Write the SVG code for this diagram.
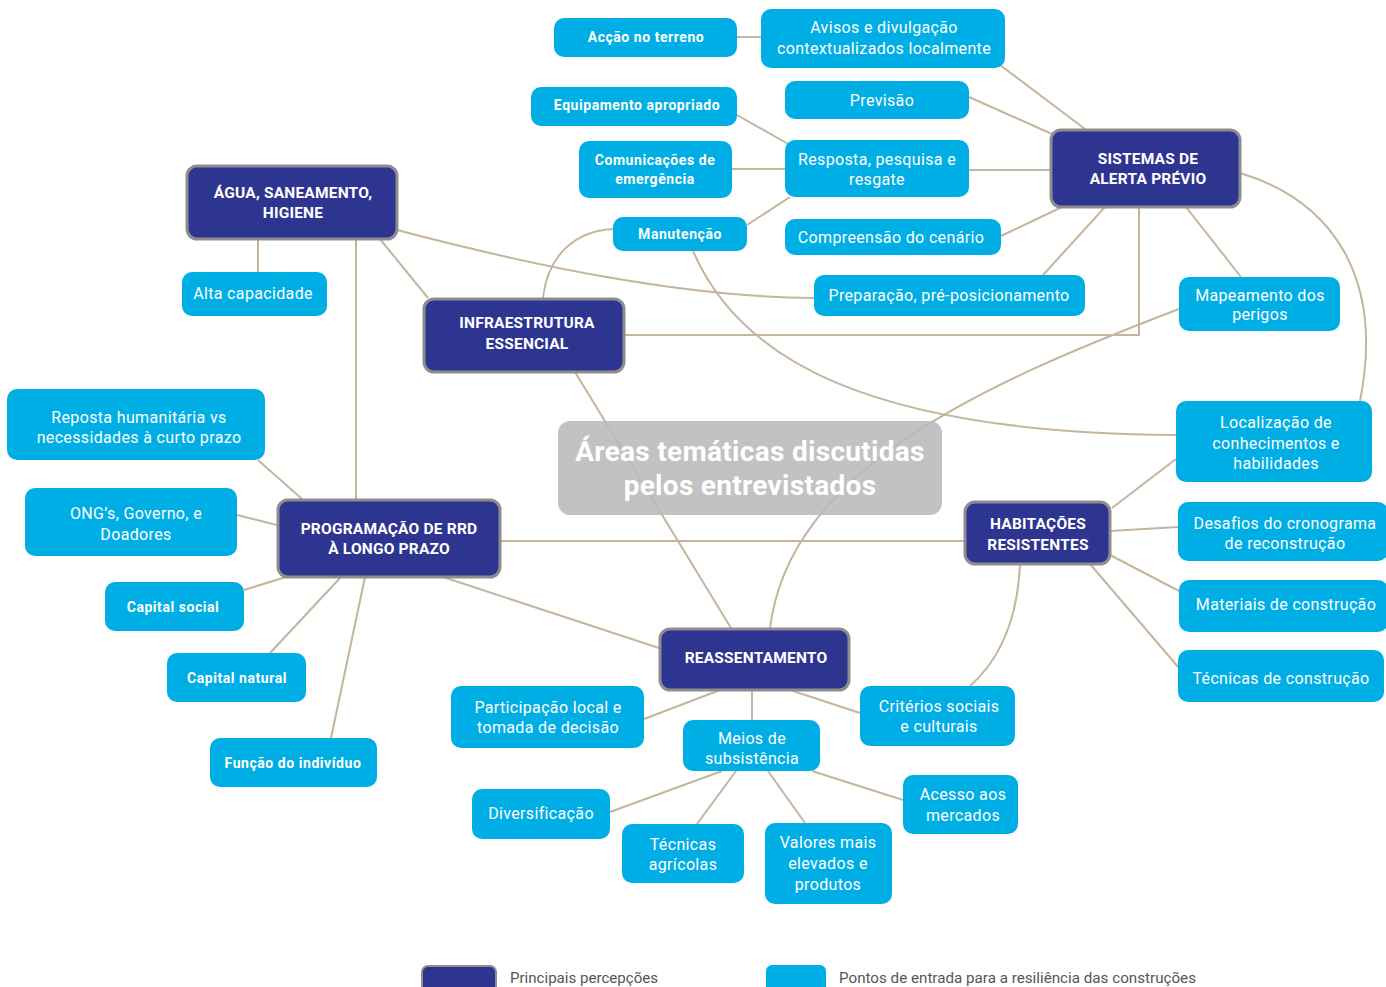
<svg xmlns="http://www.w3.org/2000/svg" width="1386" height="987" viewBox="0 0 1386 987">
<style>
.c{fill:none;stroke:#c4b59c;stroke-width:2}
.d rect{fill:#2e3591;stroke:#8d8d8f;stroke-width:3}
.l rect{fill:#00aee6}
text{font-family:Roboto,"Liberation Sans",sans-serif;fill:#fff;text-anchor:middle}
.d text{font-weight:bold;font-size:15.5px;letter-spacing:0.2px}
.l text{font-size:16px;letter-spacing:0.35px}
.l text.b{font-weight:bold;font-size:14px;letter-spacing:0.55px}
.t{font-weight:bold;font-size:28px;letter-spacing:0.3px}
.lg{fill:#555;text-anchor:start;font-size:14px;letter-spacing:0}
</style>
<rect width="1386" height="987" fill="#fff"/>
<g id="connectors">
<path class="c" d="M737 37H761"/>
<path class="c" d="M1000 65L1085 129"/>
<path class="c" d="M969 97L1052 134"/>
<path class="c" d="M969 170H1050"/>
<path class="c" d="M1001 236L1062 207"/>
<path class="c" d="M1043 275L1105 207"/>
<path class="c" d="M1139 207V335H624"/>
<path class="c" d="M1186 207L1241 277"/>
<path class="c" d="M1240 173C1330 200 1385 275 1360 401"/>
<path class="c" d="M737 115L790 145"/>
<path class="c" d="M732 169H785"/>
<path class="c" d="M747 225L790 197"/>
<path class="c" d="M613 229C575 231 548 255 543 298"/>
<path class="c" d="M693 251C740 360 870 433 1176 435"/>
<path class="c" d="M397 230C530 265 680 297 814 298"/>
<path class="c" d="M258 239V272"/>
<path class="c" d="M356 239V499"/>
<path class="c" d="M380 239L428 298"/>
<path class="c" d="M575 372L731 628"/>
<path class="c" d="M1179 309C980 385 790 470 770 628"/>
<path class="c" d="M258 460L302 499"/>
<path class="c" d="M237 515L277 525"/>
<path class="c" d="M244 590L286 577"/>
<path class="c" d="M270 653L341 577"/>
<path class="c" d="M331 738L365 577"/>
<path class="c" d="M500 541H964"/>
<path class="c" d="M443 577L659 648"/>
<path class="c" d="M1112 508L1176 459"/>
<path class="c" d="M1110 531L1178 527"/>
<path class="c" d="M1110 555L1179 591"/>
<path class="c" d="M1090 564L1179 668"/>
<path class="c" d="M1020 564C1018 610 1005 655 970 686"/>
<path class="c" d="M720 690L644 719"/>
<path class="c" d="M752 690V720"/>
<path class="c" d="M790 690L860 713"/>
<path class="c" d="M722 771L610 812"/>
<path class="c" d="M736 771L697 824"/>
<path class="c" d="M768 771L805 823"/>
<path class="c" d="M812 771L903 800"/>
</g>
<g id="center">
<rect x="558" y="421" width="384" height="94" rx="12" fill="#b8b9bb" fill-opacity="0.88"/>
<text class="t" x="750" y="461">Áreas temáticas discutidas</text>
<text class="t" x="750" y="495">pelos entrevistados</text>
</g>
<g id="sistemas" class="d"><rect x="1051" y="130" width="189" height="77" rx="10"/><text x="1148" y="164">SISTEMAS DE</text><text x="1148" y="184">ALERTA PRÉVIO</text></g>
<g id="agua" class="d"><rect x="187" y="166" width="210" height="73" rx="10"/><text x="293" y="198">ÁGUA, SANEAMENTO,</text><text x="293" y="218">HIGIENE</text></g>
<g id="infra" class="d"><rect x="424" y="299" width="200" height="73" rx="10"/><text x="527" y="328">INFRAESTRUTURA</text><text x="527" y="349">ESSENCIAL</text></g>
<g id="programacao" class="d"><rect x="278" y="500" width="222" height="77" rx="10"/><text x="389" y="534">PROGRAMAÇÃO DE RRD</text><text x="389" y="554">À LONGO PRAZO</text></g>
<g id="habitacoes" class="d"><rect x="965" y="502" width="145" height="62" rx="10"/><text x="1038" y="529">HABITAÇÕES</text><text x="1038" y="550">RESISTENTES</text></g>
<g id="reassentamento" class="d"><rect x="660" y="629" width="189" height="61" rx="10"/><text x="756" y="663">REASSENTAMENTO</text></g>
<g id="accao" class="l"><rect x="554" y="18" width="183" height="39" rx="10"/><text class="b" x="646" y="42">Acção no terreno</text></g>
<g id="avisos" class="l"><rect x="761" y="9" width="244" height="59" rx="10"/><text x="884" y="33">Avisos e divulgação</text><text x="884" y="54">contextualizados localmente</text></g>
<g id="equipamento" class="l"><rect x="531" y="87" width="206" height="39" rx="10"/><text class="b" x="637" y="110">Equipamento apropriado</text></g>
<g id="previsao" class="l"><rect x="785" y="81" width="184" height="38" rx="10"/><text x="882" y="106">Previsão</text></g>
<g id="comunicacoes" class="l"><rect x="579" y="141" width="153" height="57" rx="10"/><text class="b" x="655" y="165">Comunicações de</text><text class="b" x="655" y="184">emergência</text></g>
<g id="resposta" class="l"><rect x="785" y="140" width="184" height="57" rx="10"/><text x="877" y="165">Resposta, pesquisa e</text><text x="877" y="185">resgate</text></g>
<g id="manutencao" class="l"><rect x="613" y="217" width="134" height="34" rx="10"/><text class="b" x="680" y="239">Manutenção</text></g>
<g id="compreensao" class="l"><rect x="785" y="219" width="216" height="36" rx="10"/><text x="891" y="243">Compreensão do cenário</text></g>
<g id="preparacao" class="l"><rect x="814" y="275" width="271" height="41" rx="10"/><text x="949" y="301">Preparação, pré-posicionamento</text></g>
<g id="mapeamento" class="l"><rect x="1179" y="277" width="161" height="54" rx="10"/><text x="1260" y="301">Mapeamento dos</text><text x="1260" y="320">perigos</text></g>
<g id="alta" class="l"><rect x="182" y="272" width="145" height="44" rx="10"/><text x="253" y="299">Alta capacidade</text></g>
<g id="localizacao" class="l"><rect x="1176" y="401" width="196" height="81" rx="10"/><text x="1276" y="428">Localização de</text><text x="1276" y="449">conhecimentos e</text><text x="1276" y="469">habilidades</text></g>
<g id="reposta" class="l"><rect x="7" y="389" width="258" height="71" rx="10"/><text x="139" y="423">Reposta humanitária vs</text><text x="139" y="443">necessidades à curto prazo</text></g>
<g id="ong" class="l"><rect x="25" y="488" width="212" height="68" rx="10"/><text x="136" y="519">ONG’s, Governo, e</text><text x="136" y="540">Doadores</text></g>
<g id="desafios" class="l"><rect x="1178" y="502" width="210" height="59" rx="10"/><text x="1285" y="529">Desafios do cronograma</text><text x="1285" y="549">de reconstrução</text></g>
<g id="capsocial" class="l"><rect x="105" y="582" width="139" height="49" rx="10"/><text class="b" x="173" y="612">Capital social</text></g>
<g id="materiais" class="l"><rect x="1179" y="580" width="209" height="52" rx="10"/><text x="1286" y="610">Materiais de construção</text></g>
<g id="capnatural" class="l"><rect x="167" y="653" width="139" height="49" rx="10"/><text class="b" x="237" y="683">Capital natural</text></g>
<g id="tecconstrucao" class="l"><rect x="1178" y="650" width="206" height="52" rx="10"/><text x="1281" y="684">Técnicas de construção</text></g>
<g id="participacao" class="l"><rect x="451" y="686" width="193" height="62" rx="10"/><text x="548" y="713">Participação local e</text><text x="548" y="733">tomada de decisão</text></g>
<g id="criterios" class="l"><rect x="860" y="686" width="155" height="60" rx="10"/><text x="939" y="712">Critérios sociais</text><text x="939" y="732">e culturais</text></g>
<g id="meios" class="l"><rect x="683" y="720" width="137" height="51" rx="10"/><text x="752" y="744">Meios de</text><text x="752" y="764">subsistência</text></g>
<g id="funcao" class="l"><rect x="210" y="738" width="167" height="49" rx="10"/><text class="b" x="293" y="768">Função do indivíduo</text></g>
<g id="diversificacao" class="l"><rect x="472" y="789" width="138" height="50" rx="10"/><text x="541" y="819">Diversificação</text></g>
<g id="acesso" class="l"><rect x="903" y="775" width="115" height="59" rx="10"/><text x="963" y="800">Acesso aos</text><text x="963" y="821">mercados</text></g>
<g id="tecagricolas" class="l"><rect x="622" y="824" width="122" height="59" rx="10"/><text x="683" y="850">Técnicas</text><text x="683" y="870">agrícolas</text></g>
<g id="valores" class="l"><rect x="765" y="823" width="127" height="81" rx="10"/><text x="828" y="848">Valores mais</text><text x="828" y="869">elevados e</text><text x="828" y="890">produtos</text></g>
<g id="legend">
<rect x="422" y="966" width="74" height="30" rx="6" fill="#2e3591" stroke="#8d8d8f" stroke-width="2"/>
<text class="lg" x="510" y="983" textLength="148" lengthAdjust="spacingAndGlyphs">Principais percepções</text>
<rect x="766" y="965" width="60" height="30" rx="6" fill="#00aee6"/>
<text class="lg" x="839" y="983" textLength="357" lengthAdjust="spacingAndGlyphs">Pontos de entrada para a resiliência das construções</text>
</g>
</svg>
